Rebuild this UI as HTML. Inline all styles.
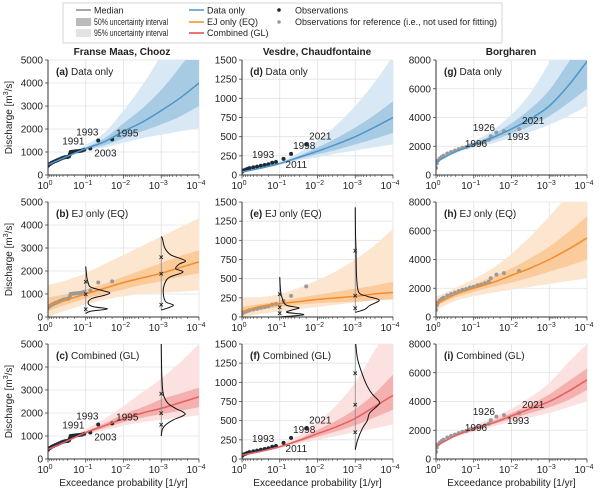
<!DOCTYPE html>
<html><head><meta charset="utf-8"><style>
body{margin:0;background:#fff;}
svg text{font-family:"Liberation Sans",sans-serif;fill:#222;}
</style></head><body>
<svg id="c" width="600" height="493" viewBox="0 0 600 493" xmlns="http://www.w3.org/2000/svg">
<g>
<rect x="63" y="3" width="439" height="40" fill="#fff" stroke="#ccc" stroke-width="0.8"/>
<line x1="76" y1="10" x2="91" y2="10" stroke="#888" stroke-width="1.5"/><text x="94" y="13.5" font-size="9">Median</text>
<rect x="76" y="18" width="15" height="8" fill="#bbb"/><text x="94" y="25" font-size="9" textLength="74" lengthAdjust="spacingAndGlyphs">50% uncertainty interval</text>
<rect x="76" y="29" width="15" height="8" fill="#e3e3e3"/><text x="94" y="36" font-size="9" textLength="74" lengthAdjust="spacingAndGlyphs">95% uncertainty interval</text>
<line x1="189" y1="10" x2="204" y2="10" stroke="#4f95c9" stroke-width="1.5"/><text x="207" y="13.5" font-size="9">Data only</text>
<line x1="189" y1="22" x2="204" y2="22" stroke="#f28c2e" stroke-width="1.5"/><text x="207" y="25" font-size="9">EJ only (EQ)</text>
<line x1="189" y1="33" x2="204" y2="33" stroke="#e04848" stroke-width="1.5"/><text x="207" y="36" font-size="9">Combined (GL)</text>
<circle cx="279" cy="10" r="1.8" fill="#222"/><text x="295" y="13.5" font-size="9">Observations</text>
<circle cx="279" cy="22" r="1.8" fill="#999"/><text x="295" y="25" font-size="9" textLength="202" lengthAdjust="spacingAndGlyphs">Observations for reference (i.e., not used for fitting)</text>
</g>
<text x="122" y="55" font-size="10" font-weight="bold" text-anchor="middle">Franse Maas, Chooz</text>
<text x="317" y="55" font-size="10" font-weight="bold" text-anchor="middle">Vesdre, Chaudfontaine</text>
<text x="511" y="55" font-size="10" font-weight="bold" text-anchor="middle">Borgharen</text>
</svg>
<script>
const LP=[0,-0.5,-1,-1.5,-2,-2.5,-3,-3.5,-4];
const medA=[450,800,1150,1450,1900,2300,2800,3350,4000],lo50A=[430,780,1100,1300,1600,1900,2200,2550,3000],hi50A=[470,830,1200,1600,2250,2900,3700,4700,5800],lo95A=[400,750,1050,1200,1400,1600,1750,1900,2050],hi95A=[500,870,1300,1850,2800,3900,5200,6500,8000];
const medB=[500,750,1000,1250,1500,1700,1900,2150,2400],lo50B=[250,550,800,1000,1200,1400,1550,1750,1900],hi50B=[850,1000,1200,1450,1750,2050,2350,2650,2900],lo95B=[0,300,550,750,900,1000,1050,1100,1150],hi95B=[1400,1600,1900,2300,2700,3100,3500,3900,4300];
const medC=[420,780,1150,1450,1750,2000,2200,2450,2700],lo50C=[400,760,1100,1350,1600,1800,1950,2100,2250],hi50C=[440,800,1200,1550,1950,2250,2600,2850,3100],lo95C=[380,740,1050,1250,1450,1600,1700,1800,1900],hi95C=[460,830,1300,1750,2300,2900,3500,4200,5000];
const medD=[40,90,150,230,310,400,500,620,750],lo50D=[35,85,140,210,270,330,400,470,550],hi50D=[45,95,160,250,360,480,620,780,960],lo95D=[30,80,130,190,230,280,320,360,400],hi95D=[50,100,175,290,450,650,900,1200,1550];
const medE=[70,140,175,200,230,250,270,300,320],lo50E=[30,90,130,160,180,190,200,215,230],hi50E=[130,170,210,250,290,330,370,410,460],lo95E=[0,40,70,100,130,160,190,220,250],hi95E=[250,260,300,380,480,600,750,930,1150];
const medF=[50,100,160,240,330,420,530,680,830],lo50F=[45,95,150,220,290,360,440,540,640],hi50F=[55,105,170,260,380,500,650,850,1100],lo95F=[40,90,140,200,250,300,350,400,450],hi95F=[60,110,190,310,480,700,1000,1400,1800];
const medG=[900,1600,2100,2600,3200,3900,4800,6200,7900],lo50G=[850,1550,2000,2400,2900,3400,4100,5000,6000],hi50G=[950,1650,2200,2800,3600,4600,5900,7800,9800],lo95G=[800,1500,1900,2200,2600,3000,3500,4100,4800],hi95G=[1000,1700,2350,3100,4200,5700,7800,10000,13000];
const medH=[900,1550,2000,2400,2900,3400,4000,4700,5500],lo50H=[750,1350,1750,2100,2400,2750,3150,3550,4000],hi50H=[1100,1750,2250,2800,3400,4100,4900,5900,7000],lo95H=[500,1100,1450,1700,1900,2100,2300,2500,2700],hi95H=[1400,2000,2650,3400,4400,5600,7000,8500,10000];
const medI=[900,1600,2100,2500,3000,3500,4000,4700,5500],lo50I=[850,1550,2000,2400,2800,3200,3600,4100,4800],hi50I=[950,1650,2200,2650,3200,3800,4500,5400,6300],lo95I=[800,1500,1900,2250,2600,2900,3200,3600,4000],hi95I=[1000,1700,2300,2850,3500,4300,5300,6700,8000];
const obsChoozLP=[0,-0.05,-0.1,-0.15,-0.2,-0.25,-0.3,-0.35,-0.4,-0.45,-0.5,-0.53,-0.56,-0.58,-0.6,-0.65,-0.7,-0.75,-0.8,-0.85,-0.9,-0.96,-1.12,-1.33,-1.7];
const obsChoozV=[400,480,530,570,610,640,680,720,750,770,780,790,820,900,1000,1010,1020,1030,1040,1050,1060,1100,1150,1500,1550];
const obsVesLP=[0,-0.05,-0.1,-0.15,-0.2,-0.3,-0.4,-0.5,-0.6,-0.7,-0.8,-0.9,-1.1,-1.3,-1.7];
const obsVesV=[40,60,70,80,90,100,110,120,130,140,160,170,210,275,400];
const obsBorLP=[0,-0.02,-0.05,-0.1,-0.15,-0.2,-0.3,-0.4,-0.5,-0.6,-0.7,-0.8,-0.9,-1.0,-1.1,-1.2,-1.3,-1.4,-1.45,-1.6,-1.8,-2.2];
const obsBorV=[500,800,1000,1150,1250,1350,1500,1600,1700,1800,1900,1950,2050,2100,2200,2250,2350,2450,2700,2950,3050,3200];
const yMaxes=[5000,1500,8000];
const yTicksChooz=[0,1000,2000,3000,4000,5000],yTicksVes=[0,250,500,750,1000,1250,1500],yTicksBor=[0,2000,4000,6000,8000];
const densB1V=[150,250,350,450,600,800,950,1050,1150,1300,1500,1700,2200],densB1D=[0,0.2,0.9,0.3,0.1,0.25,0.8,1,0.7,0.2,0.1,0.05,0];
const densB3V=[300,500,650,900,1300,1700,1950,2100,2300,2450,2700,3000,3400,3500],densB3D=[0,0.5,0.2,0.1,0.1,0.3,0.9,0.6,0.75,1,0.4,0.15,0.05,0];
const densE1V=[0,30,60,90,120,150,200,250,300,400,520],densE1D=[0,1,0.3,0.5,0.8,0.3,0.15,0.1,0.05,0.02,0];
const densE3V=[60,100,150,220,270,320,500,700,900,1100,1430],densE3D=[0,0.4,0.6,1,0.5,0.15,0.06,0.04,0.03,0.01,0];
const densC3V=[1000,1300,1500,1700,1850,1950,2050,2200,2400,2700,3000,3500,4200,5000],densC3D=[0,0.05,0.2,0.5,0.85,1,0.9,0.6,0.3,0.12,0.06,0.03,0.01,0];
const densF3V=[120,250,400,500,600,700,750,850,950,1100,1300,1500],densF3D=[0,0.1,0.3,0.5,0.6,0.95,1,0.7,0.5,0.3,0.1,0.02];
const NS='http://www.w3.org/2000/svg',svg=document.getElementById('c');
const colX=[48,242,436],rowY=[60,202,344],W=151,H=115;
const pal=[{l:'#d8e8f4',m:'#a8cbe4',c:'#4f95c9'},{l:'#fde6cf',m:'#fbcb9c',c:'#f28c2e'},{l:'#fbe1e0',m:'#f5b1af',c:'#e36060'}];
function mk(t,a,p){const e=document.createElementNS(NS,t);for(const k in a)e.setAttribute(k,a[k]);(p||svg).appendChild(e);return e;}
function cr(pts){let d='M'+pts[0][0]+','+pts[0][1];for(let i=0;i<pts.length-1;i++){const p0=pts[i-1]||pts[i],p1=pts[i],p2=pts[i+1],p3=pts[i+2]||p2;d+=' C'+(p1[0]+(p2[0]-p0[0])/6)+','+(p1[1]+(p2[1]-p0[1])/6)+' '+(p2[0]-(p3[0]-p1[0])/6)+','+(p2[1]-(p3[1]-p1[1])/6)+' '+p2[0]+','+p2[1];}return d;}
const labC=[['1991',-0.96,-22,-5],['1993',-1.33,-22,-5],['2003',-1.12,4,8],['1995',-1.7,4,-3]];
const labV=[['1993',-0.9,-24,-4],['2011',-1.1,2,9],['1998',-1.3,2,-5],['2021',-1.7,3,-5]];
const labB=[['1926',-1.45,-18,-5],['1996',-1.4,-24,7],['1993',-1.8,3,9],['2021',-2.2,3,-5]];
const panels=[
 {c:0,r:0,k:'a',t:'Data only',b:[medA,lo50A,hi50A,lo95A,hi95A],o:'dark',lab:labC},
 {c:0,r:1,k:'b',t:'EJ only (EQ)',b:[medB,lo50B,hi50B,lo95B,hi95B],o:'grey',d:[[-1,densB1V,densB1D,[350,1000,1550]],[-3,densB3V,densB3D,[550,1900,2600]]]},
 {c:0,r:2,k:'c',t:'Combined (GL)',b:[medC,lo50C,hi50C,lo95C,hi95C],o:'dark',lab:labC,d:[[-3,densC3V,densC3D,[1500,2000,2850]]]},
 {c:1,r:0,k:'d',t:'Data only',b:[medD,lo50D,hi50D,lo95D,hi95D],o:'dark',lab:labV},
 {c:1,r:1,k:'e',t:'EJ only (EQ)',b:[medE,lo50E,hi50E,lo95E,hi95E],o:'grey',d:[[-1,densE1V,densE1D,[50,130,300]],[-3,densE3V,densE3D,[120,280,870]]]},
 {c:1,r:2,k:'f',t:'Combined (GL)',b:[medF,lo50F,hi50F,lo95F,hi95F],o:'dark',lab:labV,d:[[-3,densF3V,densF3D,[350,710,1120]]]},
 {c:2,r:0,k:'g',t:'Data only',b:[medG,lo50G,hi50G,lo95G,hi95G],o:'grey',lab:labB},
 {c:2,r:1,k:'h',t:'EJ only (EQ)',b:[medH,lo50H,hi50H,lo95H,hi95H],o:'grey'},
 {c:2,r:2,k:'i',t:'Combined (GL)',b:[medI,lo50I,hi50I,lo95I,hi95I],o:'grey',lab:labB}
];
const obsLP=[obsChoozLP,obsVesLP,obsBorLP],obsV=[obsChoozV,obsVesV,obsBorV],yT=[yTicksChooz,yTicksVes,yTicksBor];
panels.forEach(P=>{
 const x0=colX[P.c],y0=rowY[P.r],ym=yMaxes[P.c],col=pal[P.r];
 const X=lp=>x0-lp*W/4,Y=v=>y0+H-v/ym*H;
 const g=mk('g',{});
 
 
 const cp=mk('clipPath',{id:'cp'+P.k},g);mk('rect',{x:x0,y:y0,width:W,height:H},cp);
 yT[P.c].forEach(v=>{mk('line',{x1:x0,x2:x0+W,y1:Y(v),y2:Y(v),stroke:'#e2e2e2','stroke-width':0.8},g);
  mk('line',{x1:x0-3,x2:x0,y1:Y(v),y2:Y(v),stroke:'#444','stroke-width':0.8},g);
  const t=mk('text',{x:x0-5,y:Y(v)+3.5,'font-size':10,'text-anchor':'end'},g);t.textContent=v;});
 for(let d=0;d<=4;d++){mk('line',{x1:X(-d),x2:X(-d),y1:y0,y2:y0+H,stroke:'#e2e2e2','stroke-width':0.8},g);
  const t=mk('text',{x:X(-d)-3,y:y0+H+14,'font-size':10,'text-anchor':'middle'},g);t.textContent='10';
  const s=mk('tspan',{dy:-4,'font-size':7},t);s.textContent=d==0?'0':'−'+d;
  if(d<4)for(let m=2;m<10;m++){const xx=X(-d-1+Math.log10(m));mk('line',{x1:xx,x2:xx,y1:y0+H,y2:y0+H+2,stroke:'#444','stroke-width':0.6},g);}
  mk('line',{x1:X(-d),x2:X(-d),y1:y0+H,y2:y0+H+3.5,stroke:'#444','stroke-width':0.8},g);}
 const cg=mk('g',{'clip-path':'url(#cp'+P.k+')'},g);
 const [md,l5,h5,l9,h9]=P.b;
 const band=(lo,hi,f,n)=>{const up=LP.map((l,i)=>[X(l),Y(hi[i])]),dn=LP.map((l,i)=>[X(l),Y(lo[i])]).reverse();
  const e=mk('path',{d:cr(up)+' L'+dn[0][0]+','+dn[0][1]+' '+cr(dn).slice(1)+' Z',fill:f},cg);
  
  };
 band(l9,h9,col.l,'band-95');band(l5,h5,col.m,'band-50');
 const oc=P.o=='dark'?'#1e2a36':'#9a9a9a';
 obsLP[P.c].forEach((l,i)=>{const e=mk('circle',{cx:X(l),cy:Y(obsV[P.c][i]),r:2,fill:oc},cg);
  
  });
 const ml=mk('path',{d:cr(LP.map((l,i)=>[X(l),Y(md[i])])),fill:'none',stroke:col.c,'stroke-width':1.5},cg);
 
 
 (P.d||[]).forEach(([lp,vs,ds,q])=>{const xl=X(lp);
  mk('line',{x1:xl,x2:xl,y1:Y(vs[0]),y2:Y(vs[vs.length-1]),stroke:'#888','stroke-width':0.8},cg);
  const e=mk('path',{d:cr(vs.map((v,i)=>[xl+ds[i]*24,Y(v)])),fill:'none',stroke:'#111','stroke-width':1},cg);
  
  
  q.forEach(v=>{const t=mk('text',{x:xl,y:Y(v)+3,'font-size':8,'text-anchor':'middle','font-weight':'bold'},cg);t.textContent='×';});});
 (P.lab||[]).forEach(([s,l,dx,dy])=>{let i=obsLP[P.c].indexOf(l);const t=mk('text',{x:X(l)+dx,y:Y(obsV[P.c][i])+dy,'font-size':10},g);t.textContent=s;});
 mk('line',{x1:x0,x2:x0,y1:y0,y2:y0+H,stroke:'#333','stroke-width':1},g);
 mk('line',{x1:x0,x2:x0+W,y1:y0+H,y2:y0+H,stroke:'#333','stroke-width':1},g);
 const tl=mk('text',{x:x0+8,y:y0+15,'font-size':10},g);
 const b=mk('tspan',{'font-weight':'bold'},tl);b.textContent='('+P.k+')';
 const r=mk('tspan',{},tl);r.textContent=' '+P.t;
 if(P.c==0){const t=mk('text',{x:0,y:0,'font-size':10,'text-anchor':'middle',transform:'translate(12,'+(y0+H/2)+') rotate(-90)'},g);
  t.textContent='Discharge [m';const s=mk('tspan',{dy:-4,'font-size':7},t);s.textContent='3';const s2=mk('tspan',{dy:4},t);s2.textContent='/s]';}
 if(P.r==2){const t=mk('text',{x:x0+W/2,y:486,'font-size':10,'text-anchor':'middle'},g);t.textContent='Exceedance probability [1/yr]';}
});
</script>
</body></html>
